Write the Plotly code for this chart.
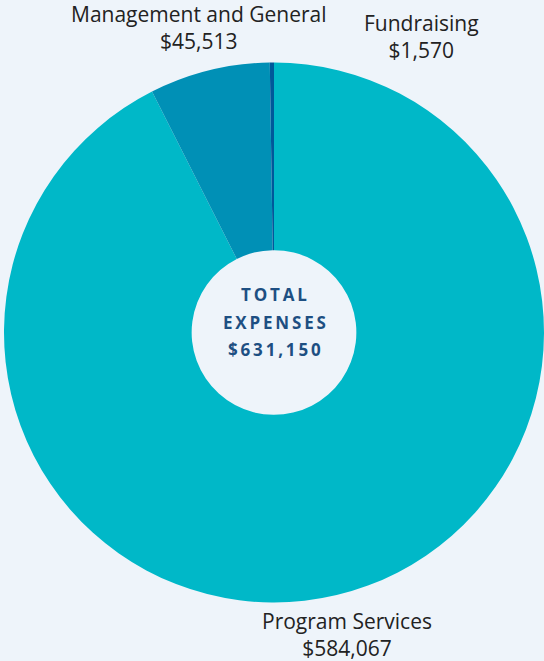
import plotly.graph_objects as go

categories = ["Program Services", "Management and General", "Fundraising"]
values = [584067, 45513, 1570]
value_labels = ["$584,067", "$45,513", "$1,570"]
colors = ["#00B8C8", "#0090B6", "#00589A"]
total_label = "$631,150"

W, H = 544, 661
fig = go.Figure(go.Pie(
    labels=categories, values=values, sort=False, direction="clockwise",
    rotation=0, hole=0.305, textinfo="none", hoverinfo="label+value",
    marker=dict(colors=colors, line=dict(width=0)),
    domain=dict(x=[4/W, 544/W], y=[(H-603)/H, (H-62)/H]),
    showlegend=False,
))

# label centre positions (pixels)
label_pos = {
    "Program Services": (347, 634),
    "Management and General": (199, 28),
    "Fundraising": (421, 37),
}
annotations = []
for cat, vl in zip(categories, value_labels):
    x, yy = label_pos[cat]
    annotations.append(dict(
        x=x/W, y=1-yy/H, xref="paper", yref="paper", text=cat + "<br>" + vl,
        showarrow=False, xanchor="center", yanchor="middle", align="center",
        font=dict(family="Open Sans", size=21, color="#222222")))

sp = "\u2009"
center_lines = ["TOTAL", "EXPENSES", total_label]
for txt, yy in zip(center_lines, (295, 322, 349)):
    annotations.append(dict(
        x=274/W, y=1-yy/H, xref="paper", yref="paper",
        text="<b>" + sp.join(list(txt)) + "</b>",
        showarrow=False, xanchor="center", yanchor="middle",
        font=dict(family="Open Sans", size=17, color="#1D4F82")))

fig.update_layout(
    width=W, height=H, margin=dict(l=0, r=0, t=0, b=0),
    paper_bgcolor="#EEF4FA", plot_bgcolor="#EEF4FA",
    annotations=annotations,
)
fig.write_html("out.html")
